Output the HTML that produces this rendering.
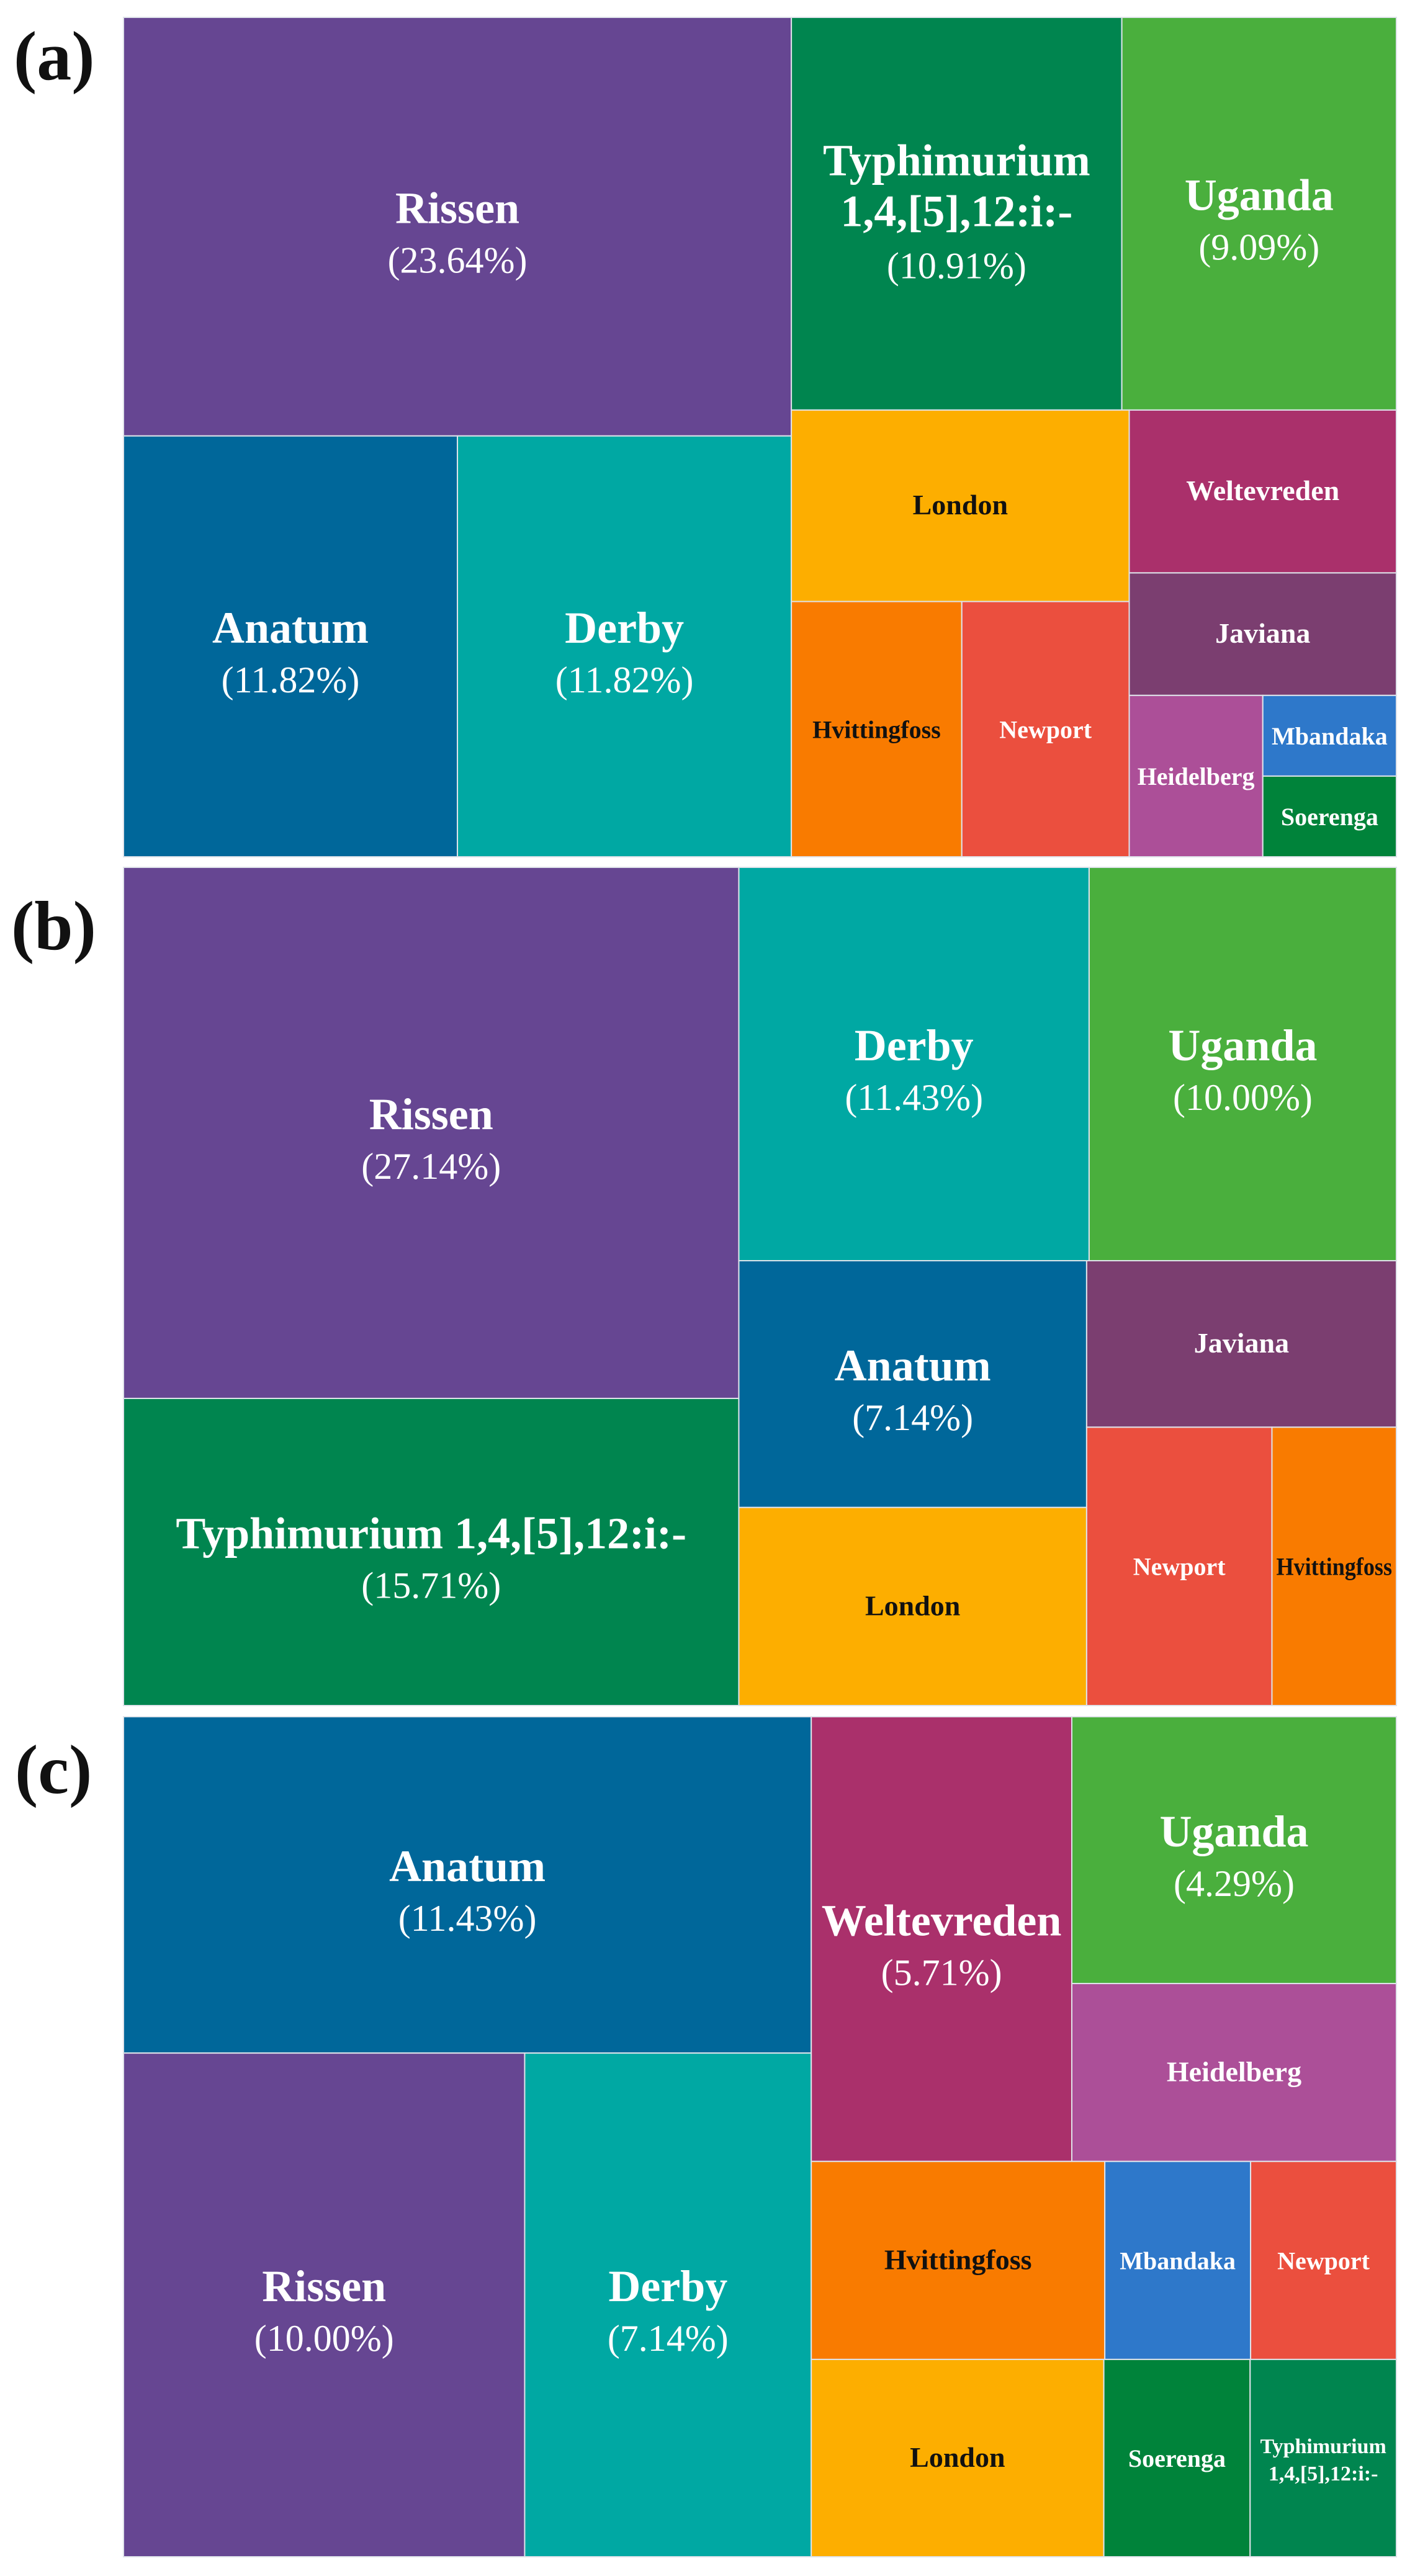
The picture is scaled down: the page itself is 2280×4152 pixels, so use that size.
<!DOCTYPE html>
<html><head><meta charset="utf-8">
<style>
html,body{margin:0;padding:0;background:#fff;}
svg{display:block;}
text{font-family:"Liberation Serif",serif;}
</style></head>
<body>
<svg id="chart" width="2280" height="4152" viewBox="0 0 2280 4152" xmlns="http://www.w3.org/2000/svg">
<text x="22" y="128" font-size="112" font-weight="bold" fill="#111">(a)</text>
<text x="18" y="1530" font-size="112" font-weight="bold" fill="#111">(b)</text>
<text x="24" y="2890" font-size="112" font-weight="bold" fill="#111">(c)</text>
</svg>
<script>
// Panel (a)
const namesA = ["Rissen","Typhimurium 1,4,[5],12:i:-","Uganda","Anatum","Derby","London","Hvittingfoss","Newport","Weltevreden","Javiana","Heidelberg","Mbandaka","Soerenga"];
const valuesA = [726,337,280,365,365,168,113,111,113,85,56,28,28];
const pctA = ["(23.64%)","(10.91%)","(9.09%)","(11.82%)","(11.82%)","","","","","","","",""];
// Panel (b)
const namesB = ["Rissen","Typhimurium 1,4,[5],12:i:-","Derby","Uganda","Anatum","London","Javiana","Newport","Hvittingfoss"];
const valuesB = [849,491,358,314,223,179,134,134,90];
const pctB = ["(27.14%)","(15.71%)","(11.43%)","(10.00%)","(7.14%)","","","",""];
// Panel (c)
const namesC = ["Anatum","Rissen","Derby","Weltevreden","Uganda","Heidelberg","Hvittingfoss","Mbandaka","Newport","London","Soerenga","Typhimurium 1,4,[5],12:i:-"];
const valuesC = [601,525,375,301,225,150,151,75,75,150,75,75];
const pctC = ["(11.43%)","(10.00%)","(7.14%)","(5.71%)","(4.29%)","","","","","","",""];

const colorOf = {"Rissen":"#664692","Typhimurium 1,4,[5],12:i:-":"#00854F","Uganda":"#4AAF3D","Anatum":"#00679A","Derby":"#00A8A3","London":"#FDAE00","Hvittingfoss":"#F97B00","Newport":"#EB4F3E","Weltevreden":"#AA306B","Javiana":"#7B3E70","Heidelberg":"#AC4F98","Mbandaka":"#2E78CA","Soerenga":"#00833A"};
const darkText = {"London":1,"Hvittingfoss":1};

const structA = {d:'h',c:[{d:'v',c:[0,{d:'h',c:[3,4]}]},{d:'v',c:[{d:'h',c:[1,2]},{d:'h',c:[{d:'v',c:[5,{d:'h',c:[6,7]}]},{d:'v',c:[8,9,{d:'h',c:[10,{d:'v',c:[11,12]}]}]}]}]}]};
const structB = {d:'h',c:[{d:'v',c:[0,1]},{d:'v',c:[{d:'h',c:[2,3]},{d:'h',c:[{d:'v',c:[4,5]},{d:'v',c:[6,{d:'h',c:[7,8]}]}]}]}]};
const structC = {d:'h',c:[{d:'v',c:[0,{d:'h',c:[1,2]}]},{d:'v',c:[{d:'h',c:[3,{d:'v',c:[4,5]}]},{d:'v',c:[{d:'h',c:[6,7,8]},{d:'h',c:[9,10,11]}]}]}]};

const svg = document.getElementById('chart');
const NS = "http://www.w3.org/2000/svg";
function slug(s){return s.toLowerCase().replace(/[^a-z0-9]+/g,'-').replace(/^-|-$/g,'');}
function sum(node, vals){ return typeof node==='number' ? vals[node] : node.c.reduce((a,ch)=>a+sum(ch,vals),0); }
function layout(node, vals, x, y, w, h, out){
  if(typeof node==='number'){ out.push({i:node,x,y,w,h}); return; }
  const tot = sum(node, vals); let off = 0;
  node.c.forEach(ch=>{
    const f = sum(ch, vals)/tot;
    if(node.d==='h'){ layout(ch, vals, x+off, y, w*f, h, out); off += w*f; }
    else { layout(ch, vals, x, y+off, w, h*f, out); off += h*f; }
  });
}
function addText(g, str, x, y, size, weight, fill, maxW, nm){
  const t = document.createElementNS(NS,'text');
  
  
  t.setAttribute('x', x); t.setAttribute('y', y);
  t.setAttribute('text-anchor','middle');
  t.setAttribute('font-size', size); t.setAttribute('font-weight', weight);
  t.setAttribute('fill', fill);
  t.textContent = str;
  g.appendChild(t);
  const L = t.getComputedTextLength();
  if(L > maxW){ t.setAttribute('textLength', maxW); t.setAttribute('lengthAdjust','spacingAndGlyphs'); }
}
function drawPanel(key, names, vals, pcts, struct, box){
  const g = document.createElementNS(NS,'g');
  
  
  svg.appendChild(g);
  const out = []; layout(struct, vals, box.x, box.y, box.w, box.h, out);
  out.forEach(r=>{
    const nm = names[r.i];
    const cell = document.createElementNS(NS,'g');
    
    
    g.appendChild(cell);
    const rc = document.createElementNS(NS,'rect');
    
    
    rc.setAttribute('x', r.x); rc.setAttribute('y', r.y);
    rc.setAttribute('width', r.w); rc.setAttribute('height', r.h);
    rc.setAttribute('fill', colorOf[nm]);
    rc.setAttribute('stroke', '#dfe3ea'); rc.setAttribute('stroke-width', '2');
    cell.appendChild(rc);
    const cx = r.x + r.w/2, cy = r.y + r.h/2;
    const fill = darkText[nm] ? '#111' : '#fff';
    const maxW = r.w - 14;
    const isTyph = nm.indexOf('Typhimurium')===0;
    if(pcts[r.i]){
      if(isTyph && r.w < 800){
        addText(cell, 'Typhimurium', cx, cy-62, 72, 'bold', fill, maxW, 'tile-label');
        addText(cell, '1,4,[5],12:i:-', cx, cy+20, 72, 'bold', fill, maxW, 'tile-label');
        addText(cell, pcts[r.i], cx, cy+104, 60, 'normal', fill, maxW, 'tile-percent');
      } else {
        addText(cell, nm, cx, cy-6, 72, 'bold', fill, maxW, 'tile-label');
        addText(cell, pcts[r.i], cx, cy+74, 60, 'normal', fill, maxW, 'tile-percent');
      }
    } else if(isTyph){
      addText(cell, 'Typhimurium', cx, cy-8, 34, 'bold', fill, maxW, 'tile-label');
      addText(cell, '1,4,[5],12:i:-', cx, cy+36, 34, 'bold', fill, maxW, 'tile-label');
    } else {
      const fs = r.w > 400 ? 46 : 40;
      addText(cell, nm, cx, cy+14, fs, 'bold', fill, maxW, 'tile-label');
    }
  });
}
drawPanel('a', namesA, valuesA, pctA, structA, {x:199,y:28,w:2051,h:1353});
drawPanel('b', namesB, valuesB, pctB, structB, {x:199,y:1398,w:2051,h:1351});
drawPanel('c', namesC, valuesC, pctC, structC, {x:199,y:2767,w:2051,h:1354});
</script>
</body></html>
